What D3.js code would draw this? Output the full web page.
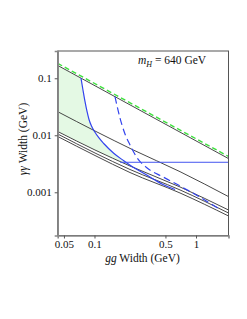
<!DOCTYPE html>
<html>
<head>
<meta charset="utf-8">
<script src="https://cdn.jsdelivr.net/npm/d3@7"></script>
<style>
  body { margin: 0; background: #fff; }
  svg { display: block; }
  text { font-family: "Liberation Serif", "DejaVu Serif", serif; fill: #111; }
</style>
</head>
<body>
<svg id="chart" width="247" height="319"></svg>
<script>
//Data: gg width (GeV) vs gamma-gamma width (GeV)
const xTicks = [0.05, 0.1, 0.5, 1];
const yTicks = [0.1, 0.01, 0.001];
const xTickLabels = ["0.05", "0.1", "0.5", "1"];
const yTickLabels = ["0.1", "0.01", "0.001"];

//upper bound (green dashed) and the black line just under it
const edgeGG = [0.0434, 2.09];
const greenTop = [0.1827, 0.00425];
const blackTop = [0.168, 0.0039];

//middle black curve
const midGG = [0.0434, 0.1011, 0.2412, 0.6958, 2.09];
const midGaGa = [0.02594, 0.0119, 0.00552, 0.0023, 0.00084];

//three lower black curves
const lowGG = [0.0434, 0.1011, 0.2238, 0.6958, 2.09];
const low1 = [0.01166, 0.00552, 0.00289, 0.00124, 0.000489];
const low2 = [0.01054, 0.00489, 0.00251, 0.0011, 0.000433];
const low3 = [0.00953, 0.00442, 0.00222, 0.000972, 0.000384];

//solid blue curve
const blueGG = [0.0736, 0.077, 0.0806, 0.0844, 0.0883, 0.0934, 0.1, 0.1107, 0.124, 0.1546, 0.194, 0.2342, 0.3145, 0.473, 0.621];
const blueGaGa = [0.1006, 0.0623, 0.0392, 0.02616, 0.01893, 0.01456, 0.01166, 0.00897, 0.0071, 0.00483, 0.00358, 0.00283, 0.00209, 0.00137, 0.00112];

//dashed blue curve
const dashGG = [0.1592, 0.1783, 0.1998, 0.2238, 0.2593, 0.3253, 0.473, 0.6958, 1.0231, 1.724];
const dashGaGa = [0.0476, 0.02011, 0.01054, 0.00676, 0.00416, 0.00272, 0.00186, 0.00129, 0.000879, 0.000499];

//horizontal blue line
const flatGG = [0.179, 2.09];
const flatGaGa = [0.00336, 0.00336];

const width = 247, height = 319;
const plot = { left: 57.7, right: 228.5, top: 51, bottom: 235.5 };

const svg = d3.select("#chart");

const x = d3.scaleLog().domain([0.0434, 2.09]).range([plot.left, plot.right]);
const y = d3.scaleLog().domain([1.745e-4, 0.301]).range([plot.bottom, plot.top]);

const zip = (xs, ys) => xs.map((v, i) => [v, ys[i]]);
const line = d3.line().x((d) => x(d[0])).y((d) => y(d[1])).curve(d3.curveMonotoneX);

svg.append("defs").append("clipPath").attr("id", "clip")
  .append("rect")
  .attr("x", plot.left).attr("y", plot.top)
  .attr("width", plot.right - plot.left).attr("height", plot.bottom - plot.top);

const g = svg.append("g").attr("clip-path", "url(#clip)");

//green fill: under the top line, left of the solid blue, above the first low curve
var cut = blueGG.indexOf(0.2342);
var fillPts = [[edgeGG[0], blackTop[0]]]
  .concat(zip(blueGG, blueGaGa).slice(0, cut + 1))
  .concat(zip(lowGG, low1).filter((d) => d[0] < blueGG[cut]).reverse());
g.append("path")
  .attr("d", d3.line().x((d) => x(d[0])).y((d) => y(d[1]))(fillPts))
  .attr("fill", "#e4f9e4")
  .attr("stroke", "none");

//black curves
[zip(edgeGG, blackTop), zip(midGG, midGaGa), zip(lowGG, low1), zip(lowGG, low2), zip(lowGG, low3)]
  .forEach((pts) => {
    g.append("path")
      .attr("d", line(pts))
      .attr("fill", "none")
      .attr("stroke", "#333")
      .attr("stroke-width", 0.9);
  });

//green dashed upper bound
g.append("path")
  .attr("d", line(zip(edgeGG, greenTop)))
  .attr("fill", "none")
  .attr("stroke", "#3ee03e")
  .attr("stroke-width", 1.4)
  .attr("stroke-dasharray", "5,3");

//blue curves
g.append("path")
  .attr("d", line(zip(blueGG, blueGaGa)))
  .attr("fill", "none")
  .attr("stroke", "#3344ee")
  .attr("stroke-width", 1.2);

g.append("path")
  .attr("d", line(zip(dashGG, dashGaGa)))
  .attr("fill", "none")
  .attr("stroke", "#3344ee")
  .attr("stroke-width", 1.2)
  .attr("stroke-dasharray", "7,4");

g.append("path")
  .attr("d", line(zip(flatGG, flatGaGa)))
  .attr("fill", "none")
  .attr("stroke", "#4455f0")
  .attr("stroke-width", 1);

//frame
svg.append("rect")
  .attr("x", plot.left).attr("y", plot.top)
  .attr("width", plot.right - plot.left).attr("height", plot.bottom - plot.top)
  .attr("fill", "none")
  .attr("stroke", "#555")
  .attr("stroke-width", 1);

//axes
const xAxis = d3.axisBottom(x).tickValues(xTicks)
  .tickFormat((d, i) => xTickLabels[i]).tickSize(3).tickPadding(2);
const yAxis = d3.axisLeft(y).tickValues(yTicks)
  .tickFormat((d, i) => yTickLabels[i]).tickSize(3).tickPadding(3);

var gx = svg.append("g").attr("transform", `translate(0,${plot.bottom})`).call(xAxis);
var gy = svg.append("g").attr("transform", `translate(${plot.left},0)`).call(yAxis);
[gx, gy].forEach((a) => {
  a.select(".domain").attr("stroke", "#888").attr("stroke-width", 1.6);
  a.selectAll(".tick line").attr("stroke", "#555");
  a.selectAll(".tick text")
    .attr("font-family", "Liberation Serif")
    .attr("font-size", 11)
    .attr("fill", "#111");
});

//axis titles
var xt = svg.append("text")
  .attr("x", 142.5).attr("y", 262)
  .attr("text-anchor", "middle")
  .attr("font-size", 11.5);
xt.append("tspan").attr("font-style", "italic").text("gg");
xt.append("tspan").text(" Width (GeV)");

var yt = svg.append("text")
  .attr("transform", "translate(27,139) rotate(-90)")
  .attr("text-anchor", "middle")
  .attr("font-size", 11.5);
yt.append("tspan").attr("font-style", "italic").text("γγ");
yt.append("tspan").text(" Width (GeV)");

//mass label
var ml = svg.append("text")
  .attr("x", 138).attr("y", 64)
  .attr("font-size", 11.5);
ml.append("tspan").attr("font-style", "italic").text("m");
ml.append("tspan").attr("font-style", "italic").attr("font-size", 8).attr("dy", 3).text("H");
ml.append("tspan").attr("dy", -3).text(" = 640 GeV");
</script>
</body>
</html>
